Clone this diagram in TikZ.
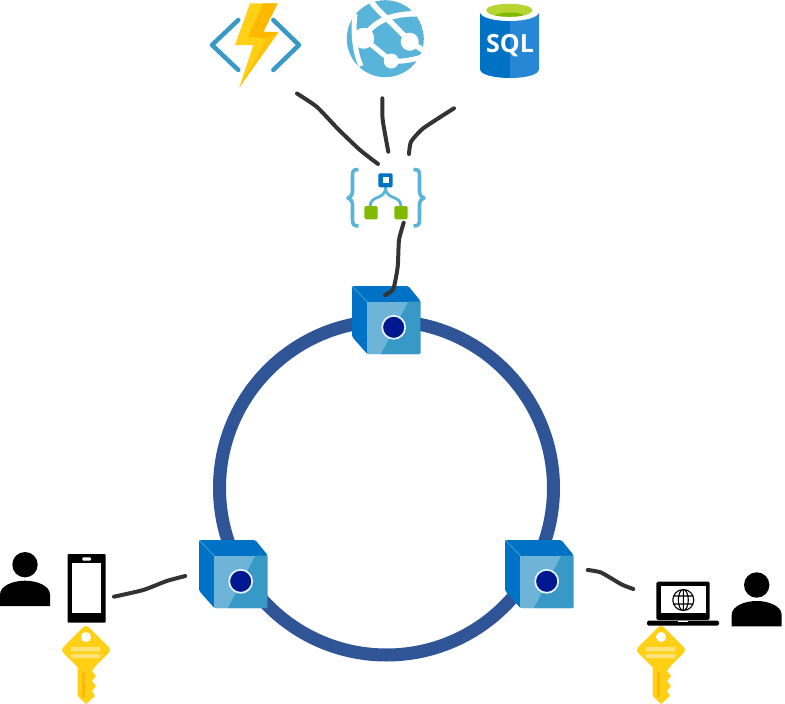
\documentclass[tikz,border=0pt]{standalone}
\usepackage{fontspec}
\setsansfont{Open Sans}
\definecolor{azureblue}{HTML}{0072C6}
\definecolor{azurelight}{HTML}{59B4D9}
\definecolor{azuremid}{HTML}{3999C6}
\definecolor{facelight}{HTML}{6DB4D8}
\definecolor{navydot}{HTML}{00188F}
\definecolor{ringblue}{HTML}{2F5597}
\definecolor{keygold}{HTML}{FFD016}
\definecolor{keybar}{HTML}{FFE27A}
\definecolor{keystripe}{HTML}{FFB900}
\definecolor{sqllight}{HTML}{2787D4}
\definecolor{leafgreen}{HTML}{7FBA00}
\definecolor{limegreen}{HTML}{B8D432}
\definecolor{inkgrey}{HTML}{333333}
\tikzset{sketch/.style={draw=inkgrey,line width=4pt,line cap=round,line join=round},
		ring/.style={draw=ringblue,line width=13pt},
		cubeicon/.pic={
			\fill[azureblue,rounded corners=1.5pt] (0,0) -- (56.3,0) -- (68.3,14.7) -- (68.3,68) -- (15.3,68) -- (0,50.7) -- cycle;
			\fill[facelight] (15.3,15.7) rectangle (68.3,68);
			\fill[azuremid] (56.3,15.7) -- (68.3,15.7) -- (68.3,68) -- (29,68) -- cycle;
			\draw[azuremid,line width=1pt] (0.5,0.5) -- (15.3,15.7);
			\draw[fill=navydot,draw=white!85!azurelight,line width=1.7pt] (41.7,41.3) circle (11.5);
		},
		keyicon/.pic={
			\fill[keygold,rounded corners=4pt] (0,-25.7) -- (25.7,0) -- (0,25.7) -- (-25.7,0) -- cycle;
			\fill[keygold] (-8.5,12) -- (-8.5,45.5) -- (0,54) -- (9,46) -- (6,41) -- (10,36) -- (6,31) -- (10,26) -- (6,21) -- (9,17) -- (9,12) -- cycle;
			\fill[keystripe] (-4.3,22) rectangle (-1,47);
			\fill[keybar] (-15,-3) rectangle (14,1.3) (-15,4) rectangle (14,8);
			\fill[white] (0,-13) circle (5);
		},
		personicon/.pic={
			\fill[black] (0,0) circle (12.7);
			\fill[black] (-25,41.3) -- (-25,30) .. controls (-25,21) and (-12,16) .. (0,16) .. controls (12,16) and (25,21) .. (25,30) -- (25,41.3) -- cycle;
		}}

\begin{document}
\begin{tikzpicture}[x=1pt,y=-1pt]
		\useasboundingbox (0,0) rectangle (785,704);
		\draw[ring] (386.5,488) circle (167);

		\pic at (352,286) {cubeicon};
		\pic at (199,540) {cubeicon};
		\pic at (505,540) {cubeicon};

		% function app
		\draw[azuremid,line width=4.5pt,line cap=round,line join=round] (238.3,20) -- (212,45) -- (238.3,70);
		\draw[azuremid,line width=4.5pt,line cap=round,line join=round] (273.3,20) -- (299,45) -- (273.3,70);
		\fill[keygold] (250,3.3) -- (277.7,3.3) -- (263.3,31.7) -- (278.3,32.3) -- (239.3,87.3) -- (253.3,45) -- (235,45) -- cycle;
		\fill[keystripe] (263.3,3.3) -- (277.7,3.3) -- (263.3,31.7) -- (278.3,32.3) -- (267,38.3) -- (248.3,36.7) -- cycle;
		\fill[keystripe!60!keygold] (278.3,32.3) -- (239.3,87.3) -- (267,38.3) -- cycle;

		% web app
		\begin{scope}
			\clip (385.3,38.7) circle (38.5);
			\fill[azurelight] (385.3,38.7) circle (38.5);
			\draw[white,line width=5.5pt] (370,0) .. controls (378,12) and (395,25) .. (409.7,41.7) -- (426,52);
			\draw[white,line width=5.5pt] (363.7,38.3) .. controls (372,22) and (392,12) .. (424,14);
			\draw[white,line width=5pt] (355,14) .. controls (353,30) and (354,50) .. (361,66);
			\draw[white,line width=5pt] (363.7,38.3) -- (391.3,61) .. controls (402,62) and (412,60) .. (426,56);
			\fill[white] (363.7,38.3) circle (10.5);
			\fill[white] (409.7,41.7) circle (9);
			\fill[white] (391.3,61) circle (7.5);
		\end{scope}

		% sql database
		\fill[azureblue] (480,12.7) -- (480,69) .. controls (480,75) and (495,78) .. (510,78) -- (510,12.7) -- cycle;
		\fill[sqllight] (510,12.7) -- (510,78) .. controls (525,78) and (539,75) .. (539,69) -- (539,12.7) -- cycle;
		\fill[white] (509.5,12) ellipse [x radius=29.5,y radius=9];
		\fill[limegreen] (509.3,10.3) ellipse [x radius=23.3,y radius=6.5];
		\begin{scope}
			\clip (509.3,10.3) ellipse [x radius=23.3,y radius=6.5];
			\fill[leafgreen] (509.3,17.5) ellipse [x radius=16,y radius=5];
		\end{scope}
		\node[white,font=\sffamily\bfseries\fontsize{25}{25}\selectfont,inner sep=0pt] (sql) at (510,46) {SQL};

		% logic app
		\draw[azurelight,line width=3.6pt,line join=round] (358.5,169.5) .. controls (353,169.5) and (352.5,171) .. (352.5,176) -- (352.5,192) .. controls (352.5,195) and (351,197) .. (348,198) .. controls (351,199) and (352.5,201) .. (352.5,204) -- (352.5,219) .. controls (352.5,224) and (353,226) .. (358.5,226);
		\draw[azurelight,line width=3.6pt,line join=round] (413.5,169.5) .. controls (419,169.5) and (419.5,171) .. (419.5,176) -- (419.5,192) .. controls (419.5,195) and (421,197) .. (424,198) .. controls (421,199) and (419.5,201) .. (419.5,204) -- (419.5,219) .. controls (419.5,224) and (419,226) .. (413.5,226);
		\draw[azurelight,line width=2.8pt] (370,207) .. controls (370,194) and (385.5,201) .. (385.5,187);
		\draw[azurelight,line width=2.8pt] (401,207) .. controls (401,194) and (385.5,201) .. (385.5,187);
		\fill[azureblue,rounded corners=1.5pt] (378.3,173.3) rectangle (392.7,187.3);
		\fill[white] (382.7,177.3) rectangle (389,183.3);
		\fill[leafgreen,rounded corners=1.5pt] (364.3,206) rectangle (377.7,219.3);
		\fill[leafgreen,rounded corners=1.5pt] (394.3,206) rectangle (407.7,219.3);

		% left client
		\pic at (25,564.7) {personicon};
		\fill[black,rounded corners=1pt] (67.7,554) rectangle (105.7,622.7);
		\fill[white] (72.3,563.3) rectangle (101,613.3);
		\fill[white,rounded corners=1pt] (82.3,557.3) rectangle (91,560.7);
		\pic at (86,650) {keyicon};

		% right client
		\pic at (756.7,585) {personicon};
		\fill[black,rounded corners=1.5pt] (656.3,581.7) rectangle (709.7,620);
		\fill[white] (661,586) rectangle (705.7,613.3);
		\fill[black,rounded corners=1.5pt] (647,620.7) rectangle (719,625.7);
		\fill[white] (678,620.7) rectangle (688,622.3);
		\draw[black,line width=1.1pt] (683.3,600) circle (10.5) (683.3,600) ellipse [x radius=5,y radius=10.5] (683.3,589.5) -- (683.3,610.5) (673.5,596) -- (693,596) (673.5,604) -- (693,604);
		\pic at (661,650) {keyicon};

		% sketched connectors
		\coordinate (fn-end) at (297,93.5);
		\coordinate (web-end) at (382.3,98.3);
		\coordinate (sql-end) at (454,108.3);
		\coordinate (logic-a) at (378,164);
		\coordinate (logic-b) at (388.3,151.7);
		\coordinate (logic-c) at (409,154);
		\coordinate (logic-out) at (403.7,222.7);
		\coordinate (cube-top) at (385,295);
		\coordinate (phone-end) at (114,596.7);
		\coordinate (cube-left) at (185.3,576);
		\coordinate (cube-right) at (587.7,570);
		\coordinate (laptop-end) at (633.3,589);
		\draw[sketch] plot[smooth,tension=0.35] coordinates {(fn-end) (317,107) (338,129) (360,150) (logic-a)};
		\draw[sketch] plot[smooth,tension=0.35] coordinates {(web-end) (382.7,120) (logic-b)};
		\draw[sketch] plot[smooth,tension=0.35] coordinates {(sql-end) (423.3,128.3) (411,141.7) (logic-c)};
		\draw[sketch] plot[smooth,tension=0.35] coordinates {(logic-out) (399,240) (397.7,266.7) (393.3,289) (cube-top)};
		\draw[sketch] plot[smooth,tension=0.35] coordinates {(phone-end) (143.3,590) (166.7,581) (cube-left)};
		\draw[sketch] plot[smooth,tension=0.35] coordinates {(cube-right) (601,572.5) (621.7,584.5) (laptop-end)};
	\end{tikzpicture}
\end{document}
